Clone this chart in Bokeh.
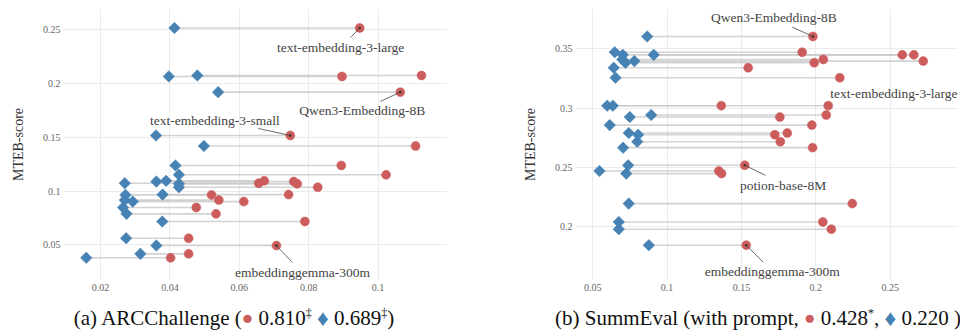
from bokeh.plotting import figure
from bokeh.models import FixedTicker, Label, Div, Spacer
from bokeh.layouts import row, column
from bokeh.embed import file_html
from bokeh.resources import INLINE
import math

# ---------------- data ----------------
# (a) ARCChallenge
arc_y = [0.2517, 0.2066, 0.2075, 0.1920, 0.1517, 0.1419, 0.1238, 0.1151,
         0.1095, 0.1088, 0.1073, 0.1067, 0.1035, 0.0964, 0.0967, 0.0916,
         0.0902, 0.0847, 0.0788, 0.0717, 0.0561, 0.0493, 0.0416, 0.0379]
arc_red = [0.0947, 0.0896, 0.1125, 0.1064, 0.0747, 0.1108, 0.0894, 0.1023,
           0.0672, 0.0757, 0.0656, 0.0767, 0.0826, 0.0520, 0.0742, 0.0541,
           0.0613, 0.0476, 0.0533, 0.0789, 0.0454, 0.0707, 0.0454, 0.0402]
arc_blue = [0.0413, 0.0397, 0.0479, 0.0539, 0.0360, 0.0498, 0.0416, 0.0426,
            0.0389, 0.0361, 0.0270, 0.0426, 0.0426, 0.0272, 0.0379, 0.0270,
            0.0293, 0.0265, 0.0275, 0.0378, 0.0274, 0.0361, 0.0315, 0.0159]

# (b) SummEval
summ_y = [0.3604, 0.3471, 0.3449, 0.3449, 0.3410, 0.3396, 0.3382, 0.3340,
          0.3256, 0.3020, 0.3020, 0.2941, 0.2924, 0.2856, 0.2789, 0.2775,
          0.2716, 0.2666, 0.2517, 0.2469, 0.2447, 0.2194, 0.2039, 0.1978, 0.1843]
summ_red = [0.1980, 0.1908, 0.2581, 0.2659, 0.2050, 0.2722, 0.1989, 0.1545,
            0.2161, 0.1364, 0.2083, 0.2070, 0.1758, 0.1973, 0.1808, 0.1724,
            0.1761, 0.1978, 0.1522, 0.1348, 0.1366, 0.2245, 0.2047, 0.2104, 0.1532]
summ_blue = [0.0866, 0.0648, 0.0702, 0.0910, 0.0698, 0.0780, 0.0720, 0.0641,
             0.0653, 0.0597, 0.0635, 0.0893, 0.0749, 0.0614, 0.0742, 0.0805,
             0.0799, 0.0704, 0.0738, 0.0545, 0.0725, 0.0742, 0.0675, 0.0675, 0.0877]

arc_xticks = [0.02, 0.04, 0.06, 0.08, 0.1]
arc_xlabels = ["0.02", "0.04", "0.06", "0.08", "0.1"]
arc_yticks = [0.05, 0.1, 0.15, 0.2, 0.25]
arc_ylabels = ["0.05", "0.1", "0.15", "0.2", "0.25"]
summ_xticks = [0.05, 0.1, 0.15, 0.2, 0.25]
summ_xlabels = ["0.05", "0.1", "0.15", "0.2", "0.25"]
summ_yticks = [0.2, 0.25, 0.3, 0.35]
summ_ylabels = ["0.2", "0.25", "0.3", "0.35"]

# annotated models: (name, row index, label offset px (dx, dy-down), leader end px or None)
arc_notes = [
    ("text-embedding-3-large", 0, (-19, 19.5), (-9, 9.5)),
    ("Qwen3-Embedding-8B", 3, (-38, 18.3), (-20, 9.3)),
    ("text-embedding-3-small", 4, (-75.5, -15), (-32, -7)),
    ("embeddinggemma-300m", 21, (26, 27), (16, 17)),
]
summ_notes = [
    ("Qwen3-Embedding-8B", 0, (-39, -19.3), (-20.6, -9.3)),
    ("text-embedding-3-large", 8, (54, 16), None),
    ("potion-base-8M", 18, (38.4, 20), (20.7, 10)),
    ("embeddinggemma-300m", 24, (26, 26.7), (17, 17)),
]

RED = "#cd5c5c"
BLUE = "#4682b4"
SERIF = "Liberation Serif"

FH = 272
TOP = 8
BOT = 22


def make_panel(ys, reds, blues, xr, yr, xticks, xlabels, yticks, ylabels,
               notes, fw, bl, br):
    p = figure(width=bl + fw + br, height=TOP + FH + BOT, x_range=xr, y_range=yr,
               output_backend="svg", toolbar_location=None,
               min_border_left=bl, min_border_right=br,
               min_border_top=TOP, min_border_bottom=BOT)
    p.outline_line_color = None
    p.background_fill_color = "white"
    p.border_fill_color = "white"
    for g in (p.xgrid, p.ygrid):
        g.grid_line_color = "#ebebeb"
        g.grid_line_width = 1
    p.xaxis.ticker = FixedTicker(ticks=xticks)
    p.yaxis.ticker = FixedTicker(ticks=yticks)
    p.xaxis.major_label_overrides = dict(zip(xticks, xlabels))
    p.yaxis.major_label_overrides = dict(zip(yticks, ylabels))
    for ax in (p.xaxis, p.yaxis):
        ax.axis_line_color = None
        ax.major_tick_line_color = None
        ax.minor_tick_line_color = None
        ax.major_tick_out = 0
        ax.minor_tick_out = 0
        ax.major_label_text_font = SERIF
        ax.major_label_text_font_size = "10px"
        ax.major_label_text_color = "#666666"
        ax.major_label_standoff = 3
    p.yaxis.axis_label = "MTEB-score"
    p.yaxis.axis_label_text_font = SERIF
    p.yaxis.axis_label_text_font_size = "14px"
    p.yaxis.axis_label_text_font_style = "normal"
    p.yaxis.axis_label_text_color = "#333333"
    p.yaxis.axis_label_standoff = 14

    p.segment(x0=blues, y0=ys, x1=reds, y1=ys, line_color="#c8c8c8",
              line_width=1.6, line_alpha=0.8)
    p.scatter(x=reds, y=ys, marker="circle", size=9, fill_color=RED,
              line_color=RED, line_width=0.5)
    p.scatter(x=blues, y=ys, marker="square", angle=math.pi / 4, size=8.2,
              fill_color=BLUE, line_color=BLUE, line_width=0.5)

    sx = (xr[1] - xr[0]) / fw
    sy = (yr[1] - yr[0]) / FH
    for name, i, (ldx, ldy), lead in notes:
        px, py = reds[i], ys[i]
        if lead is not None:
            ex, ey = lead
            p.segment(x0=[px], y0=[py], x1=[px + ex * sx], y1=[py - ey * sy],
                      line_color="#444444", line_width=0.8)
            p.scatter(x=[px], y=[py], marker="circle", size=2.5,
                      fill_color="#333333", line_color=None)
        p.add_layout(Label(x=px, y=py, x_offset=ldx, y_offset=-ldy, text=name,
                           text_align="center", text_baseline="middle",
                           text_font=SERIF, text_font_size="13.5px",
                           text_color="#444444"))
    return p


left = make_panel(arc_y, arc_red, arc_blue, (0.00934, 0.12), (0.0168, 0.2698),
                  arc_xticks, arc_xlabels, arc_yticks, arc_ylabels, arc_notes,
                  fw=384, bl=63, br=68)
right = make_panel(summ_y, summ_red, summ_blue, (0.0384, 0.2959), (0.1545, 0.384),
                   summ_xticks, summ_xlabels, summ_yticks, summ_ylabels, summ_notes,
                   fw=383, bl=60, br=0)

cap_style = ("font-family:'Liberation Serif';font-size:21px;color:#111;"
             "text-align:center;white-space:nowrap;line-height:24px;"
             "position:relative;top:-1px;")
dot = f'<span style="color:{RED};font-size:19px;vertical-align:1px">&#9679;</span>'
dia = f'<span style="color:{BLUE};font-size:23px;vertical-align:-1px">&#9830;</span>'
sup = 'style="font-size:12px;line-height:0"'
cap_a = Div(width=458, height=29, text=(
    f'<div style="{cap_style}width:458px">(a) ARCChallenge ('
    f'{dot} 0.810<sup {sup}>&#8225;</sup> '
    f'{dia} 0.689<sup {sup}>&#8225;</sup>)</div>'))
cap_b = Div(width=420, height=29, text=(
    f'<div style="{cap_style}width:420px">(b) SummEval (with prompt, '
    f'{dot} 0.428<sup {sup}>*</sup>, '
    f'{dia} 0.220 )</div>'))

layout = column(row(left, right), row(cap_a, Spacer(width=75, height=29), cap_b))

open("out.html", "w").write(file_html(layout, INLINE))
